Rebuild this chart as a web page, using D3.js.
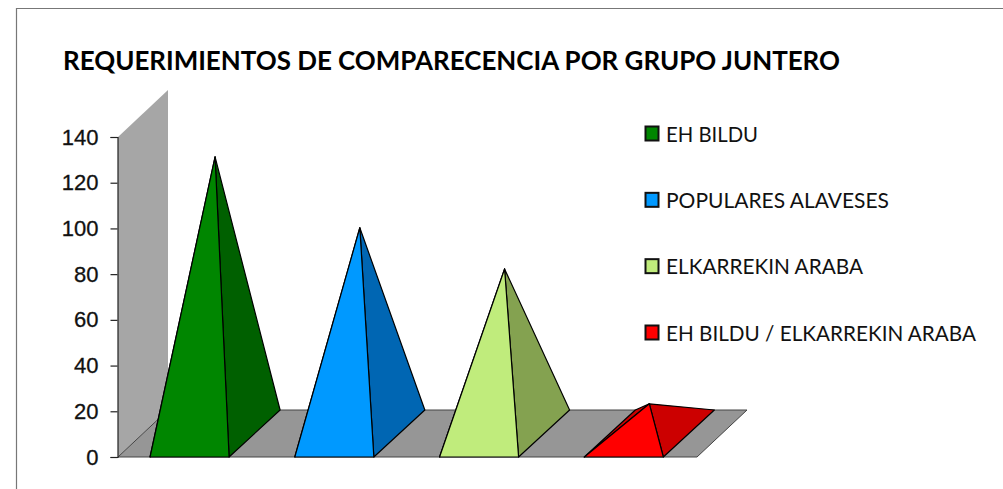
<!DOCTYPE html>
<html>
<head>
<meta charset="utf-8">
<script src="https://cdn.jsdelivr.net/npm/d3@7"></script>
<style>
  body { margin: 0; background: #fff; }
  svg { display: block; }
</style>
</head>
<body>
<svg id="chart" width="1003" height="489"></svg>
<script>
var chartTitle = "REQUERIMIENTOS DE COMPARECENCIA POR GRUPO JUNTERO";
var categories = ["EH BILDU", "POPULARES ALAVESES", "ELKARREKIN ARABA", "EH BILDU / ELKARREKIN ARABA"];
var values = [121, 90, 72, 13];
var yTicks = [0, 20, 40, 60, 80, 100, 120, 140];

var frontColors = ["#008600", "#0099ff", "#c0ec7c", "#ff0000"];
var sideColors = ["#006000", "#0066b3", "#84a250", "#cc0000"];

var svg = d3.select("#chart");

// the 3d box: depth is how far the back of the floor is shifted from the front
var left = 118, right = 697, bottom = 457, top140 = 137;
var depthX = 51, depthY = 47;

var y = d3.scaleLinear().domain([0, 140]).range([bottom, top140]);
var x = d3.scaleBand().domain(categories).range([left - 0.8, right - 0.8])
    .paddingInner(0.454).paddingOuter(0.227);
var legendY = d3.scalePoint().domain(categories).range([134, 333]);

var line = d3.line();

function polygon(points, fill, stroke, width) {
    svg.append("path")
        .attr("d", line(points) + "Z")
        .attr("fill", fill)
        .attr("stroke", stroke)
        .attr("stroke-width", width)
        .attr("stroke-linejoin", "round");
}

// outer frame, only top and left are in the picture
svg.append("path")
    .attr("d", "M16.5,489V8.5H1003")
    .attr("fill", "none")
    .attr("stroke", "#777")
    .attr("stroke-width", 1.2);

// title
svg.append("text")
    .attr("x", 63)
    .attr("y", 70)
    .attr("textLength", 777)
    .attr("lengthAdjust", "spacingAndGlyphs")
    .style("font-family", "Lato")
    .style("font-weight", "bold")
    .style("font-size", "27px")
    .attr("fill", "#000")
    .text(chartTitle);

// back wall
polygon([[left, y(140)], [left + 50, y(140) - depthY], [left + 50, bottom - depthY], [left, bottom]], "#a6a6a6", "none", 0);
// floor
polygon([[left, bottom], [right, bottom], [right + 50, bottom - depthY], [left + 50, bottom - depthY]], "#969696", "#444", 1);

// y axis
var axis = d3.axisLeft(y).tickValues(yTicks).tickSize(7).tickPadding(12).tickFormat(d3.format("d"));
var axisG = svg.append("g")
    .attr("transform", "translate(" + (left - 0.5) + ",0)")
    .call(axis);
axisG.selectAll("line").attr("stroke", "#222").attr("stroke-width", 1.2);
axisG.select(".domain").attr("stroke", "#222").attr("stroke-width", 1.2);
axisG.selectAll("text")
    .attr("fill", "#111")
    .attr("stroke", "#111")
    .attr("stroke-width", 0.3)
    .style("font-family", "Liberation Sans")
    .style("font-size", "22px");

// pyramids
categories.forEach(function(c, i) {
    var x0 = x(c);
    var x1 = x0 + x.bandwidth();
    var apex = [(x0 + x1) / 2 + depthX / 2, y(values[i]) - depthY / 2];
    var frontLeft = [x0, bottom], frontRight = [x1, bottom];
    var backLeft = [x0 + depthX, bottom - depthY], backRight = [x1 + depthX, bottom - depthY];

    polygon([frontLeft, backLeft, apex], sideColors[i], "#000", 1.2);
    polygon([frontRight, backRight, apex], sideColors[i], "#000", 1.2);
    polygon([frontLeft, frontRight, apex], frontColors[i], "#000", 1.2);
});

// legend
var legendWidths = [92, 223, 197, 310];
categories.forEach(function(c, i) {
    var ly = legendY(c);
    svg.append("rect")
        .attr("x", 645.5)
        .attr("y", ly - 7.5)
        .attr("width", 13)
        .attr("height", 14)
        .attr("fill", frontColors[i])
        .attr("stroke", "#111")
        .attr("stroke-width", 2);
    svg.append("text")
        .attr("x", 666)
        .attr("y", ly + 7.5)
        .attr("textLength", legendWidths[i])
        .attr("lengthAdjust", "spacingAndGlyphs")
        .style("font-family", "Lato")
        .style("font-size", "21px")
        .attr("fill", "#111")
        .text(c);
});
</script>
</body>
</html>
